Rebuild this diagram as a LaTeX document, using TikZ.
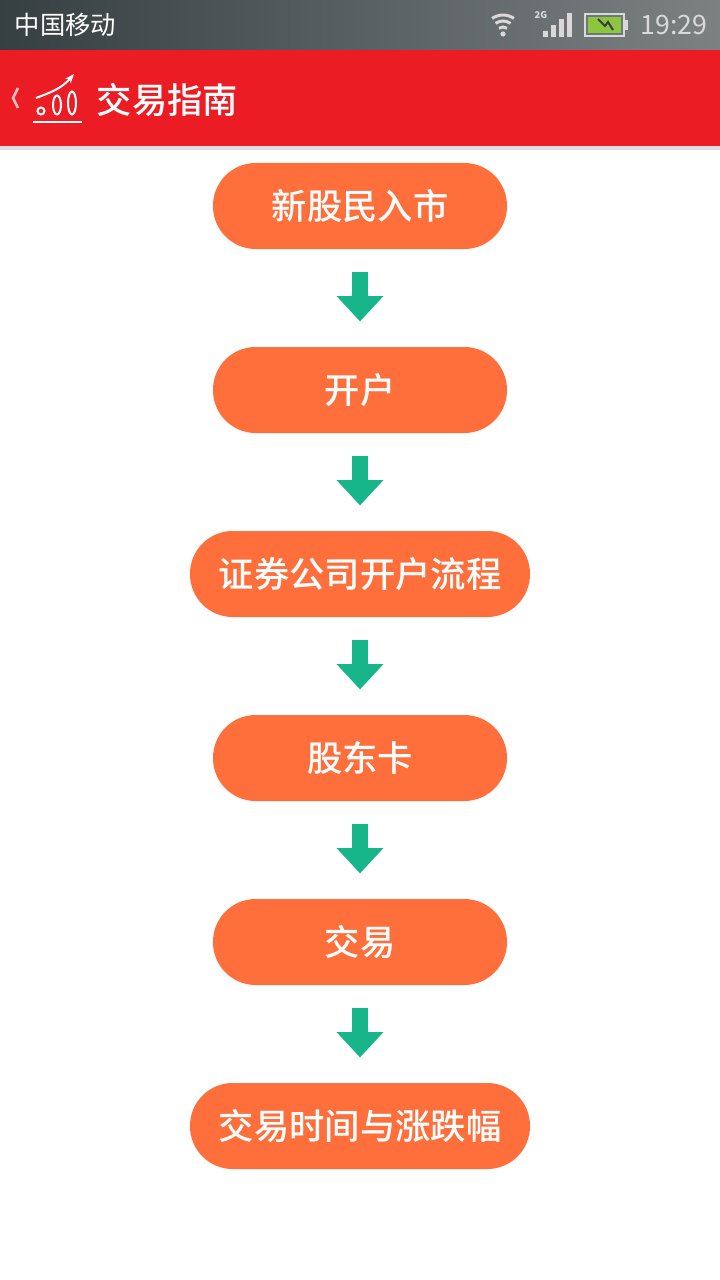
\documentclass[tikz,border=0pt]{standalone}
\usepackage{fontspec}
\setmainfont{Noto Sans CJK SC}
\newfontfamily\cjkmed{Noto Sans CJK SC Medium}
\usetikzlibrary{arrows.meta,positioning}
\definecolor{stepfill}{HTML}{FF6F3C}
\definecolor{arrowgreen}{HTML}{17B68A}
\definecolor{barred}{HTML}{EC1C24}
\definecolor{statusl}{HTML}{363F41}
\definecolor{statusr}{HTML}{7C8182}
\definecolor{battgreen}{HTML}{8CC63F}
\tikzset{
  stepbox/.style={rounded corners=32pt, fill=stepfill, text=white, minimum height=64.5pt,
    font=\cjkmed\fontsize{26.5}{26.5}\selectfont},
  flow/.style={draw=arrowgreen, line width=12pt, -{Triangle[width=34pt,length=19pt]},
    shorten <=17pt, shorten >=19pt}
}
\begin{document}
\begin{tikzpicture}[x=0.75pt,y=-0.75pt]
\useasboundingbox (0,0) rectangle (720,1280);
\fill[white] (0,0) rectangle (720,1280);
% status bar and title bar
\shade[left color=statusl, right color=statusr] (0,0) rectangle (720,50);
\fill[black!12] (0,146) rectangle (720,150);
\fill[barred] (0,50) rectangle (720,146);
\node[anchor=west, text=white, font=\fontsize{19}{19}\selectfont] (carrier) at (10,25) {中国移动};
\node[anchor=east, text=white!85!black, font=\fontsize{20}{20}\selectfont] (clock) at (712,25) {19:29};
% wifi
\foreach \r in {7,13,19}
  \draw[white!85!black, line width=2.2pt] (503,34)++(235:\r) arc (235:305:\r);
\fill[white!85!black] (503,34) circle (2.6);
% signal
\node[text=white!85!black, font=\bfseries\fontsize{7}{7}\selectfont] (gen) at (541,15) {2G};
\foreach \i/\h in {0/6,1/12,2/18,3/24}
  \fill[white!85!black] (543+\i*8,37) rectangle (548+\i*8,37-\h);
% battery
\draw[white!85!black, line width=1.5pt] (585,14) rectangle (624,36);
\fill[white!85!black] (624,20) rectangle (628,30);
\fill[battgreen] (588,17) rectangle (621,33);
\draw[statusl, line width=1.5pt] (598,19) -- (605,26) -- (608,22) -- (613,30);
% back arrow and logo
\draw[white!75!red, line width=2pt] (18,88) -- (13,98) -- (18,108);
\draw[white, line width=1.8pt] (33,122) -- (82,122);
\draw[white, line width=1.5pt] (41,111) circle (3.5);
\draw[white, line width=1.5pt] (57,105) ellipse (4 and 9.5);
\draw[white, line width=1.5pt] (72,103) ellipse (4 and 11.5);
\draw[white, line width=1.5pt, -{Stealth[length=7pt]}] (36,98) .. controls (52,92) and (62,88) .. (74,74);
\node[anchor=west, text=white, font=\cjkmed\fontsize{26.5}{26.5}\selectfont] (title) at (92,100) {交易指南};
% steps
\node[stepbox, minimum width=220.5pt] (newcomer) at (360,206) {新股民入市};
\node[stepbox, minimum width=220.5pt] (account) at (360,390) {开户};
\node[stepbox, minimum width=255pt] (broker) at (360,574) {证券公司开户流程};
\node[stepbox, minimum width=220.5pt] (holder) at (360,758) {股东卡};
\node[stepbox, minimum width=220.5pt] (trade) at (360,942) {交易};
\node[stepbox, minimum width=255pt] (hours) at (360,1126) {交易时间与涨跌幅};
\draw[flow] (newcomer) -- (account);
\draw[flow] (account) -- (broker);
\draw[flow] (broker) -- (holder);
\draw[flow] (holder) -- (trade);
\draw[flow] (trade) -- (hours);
\end{tikzpicture}
\end{document}
